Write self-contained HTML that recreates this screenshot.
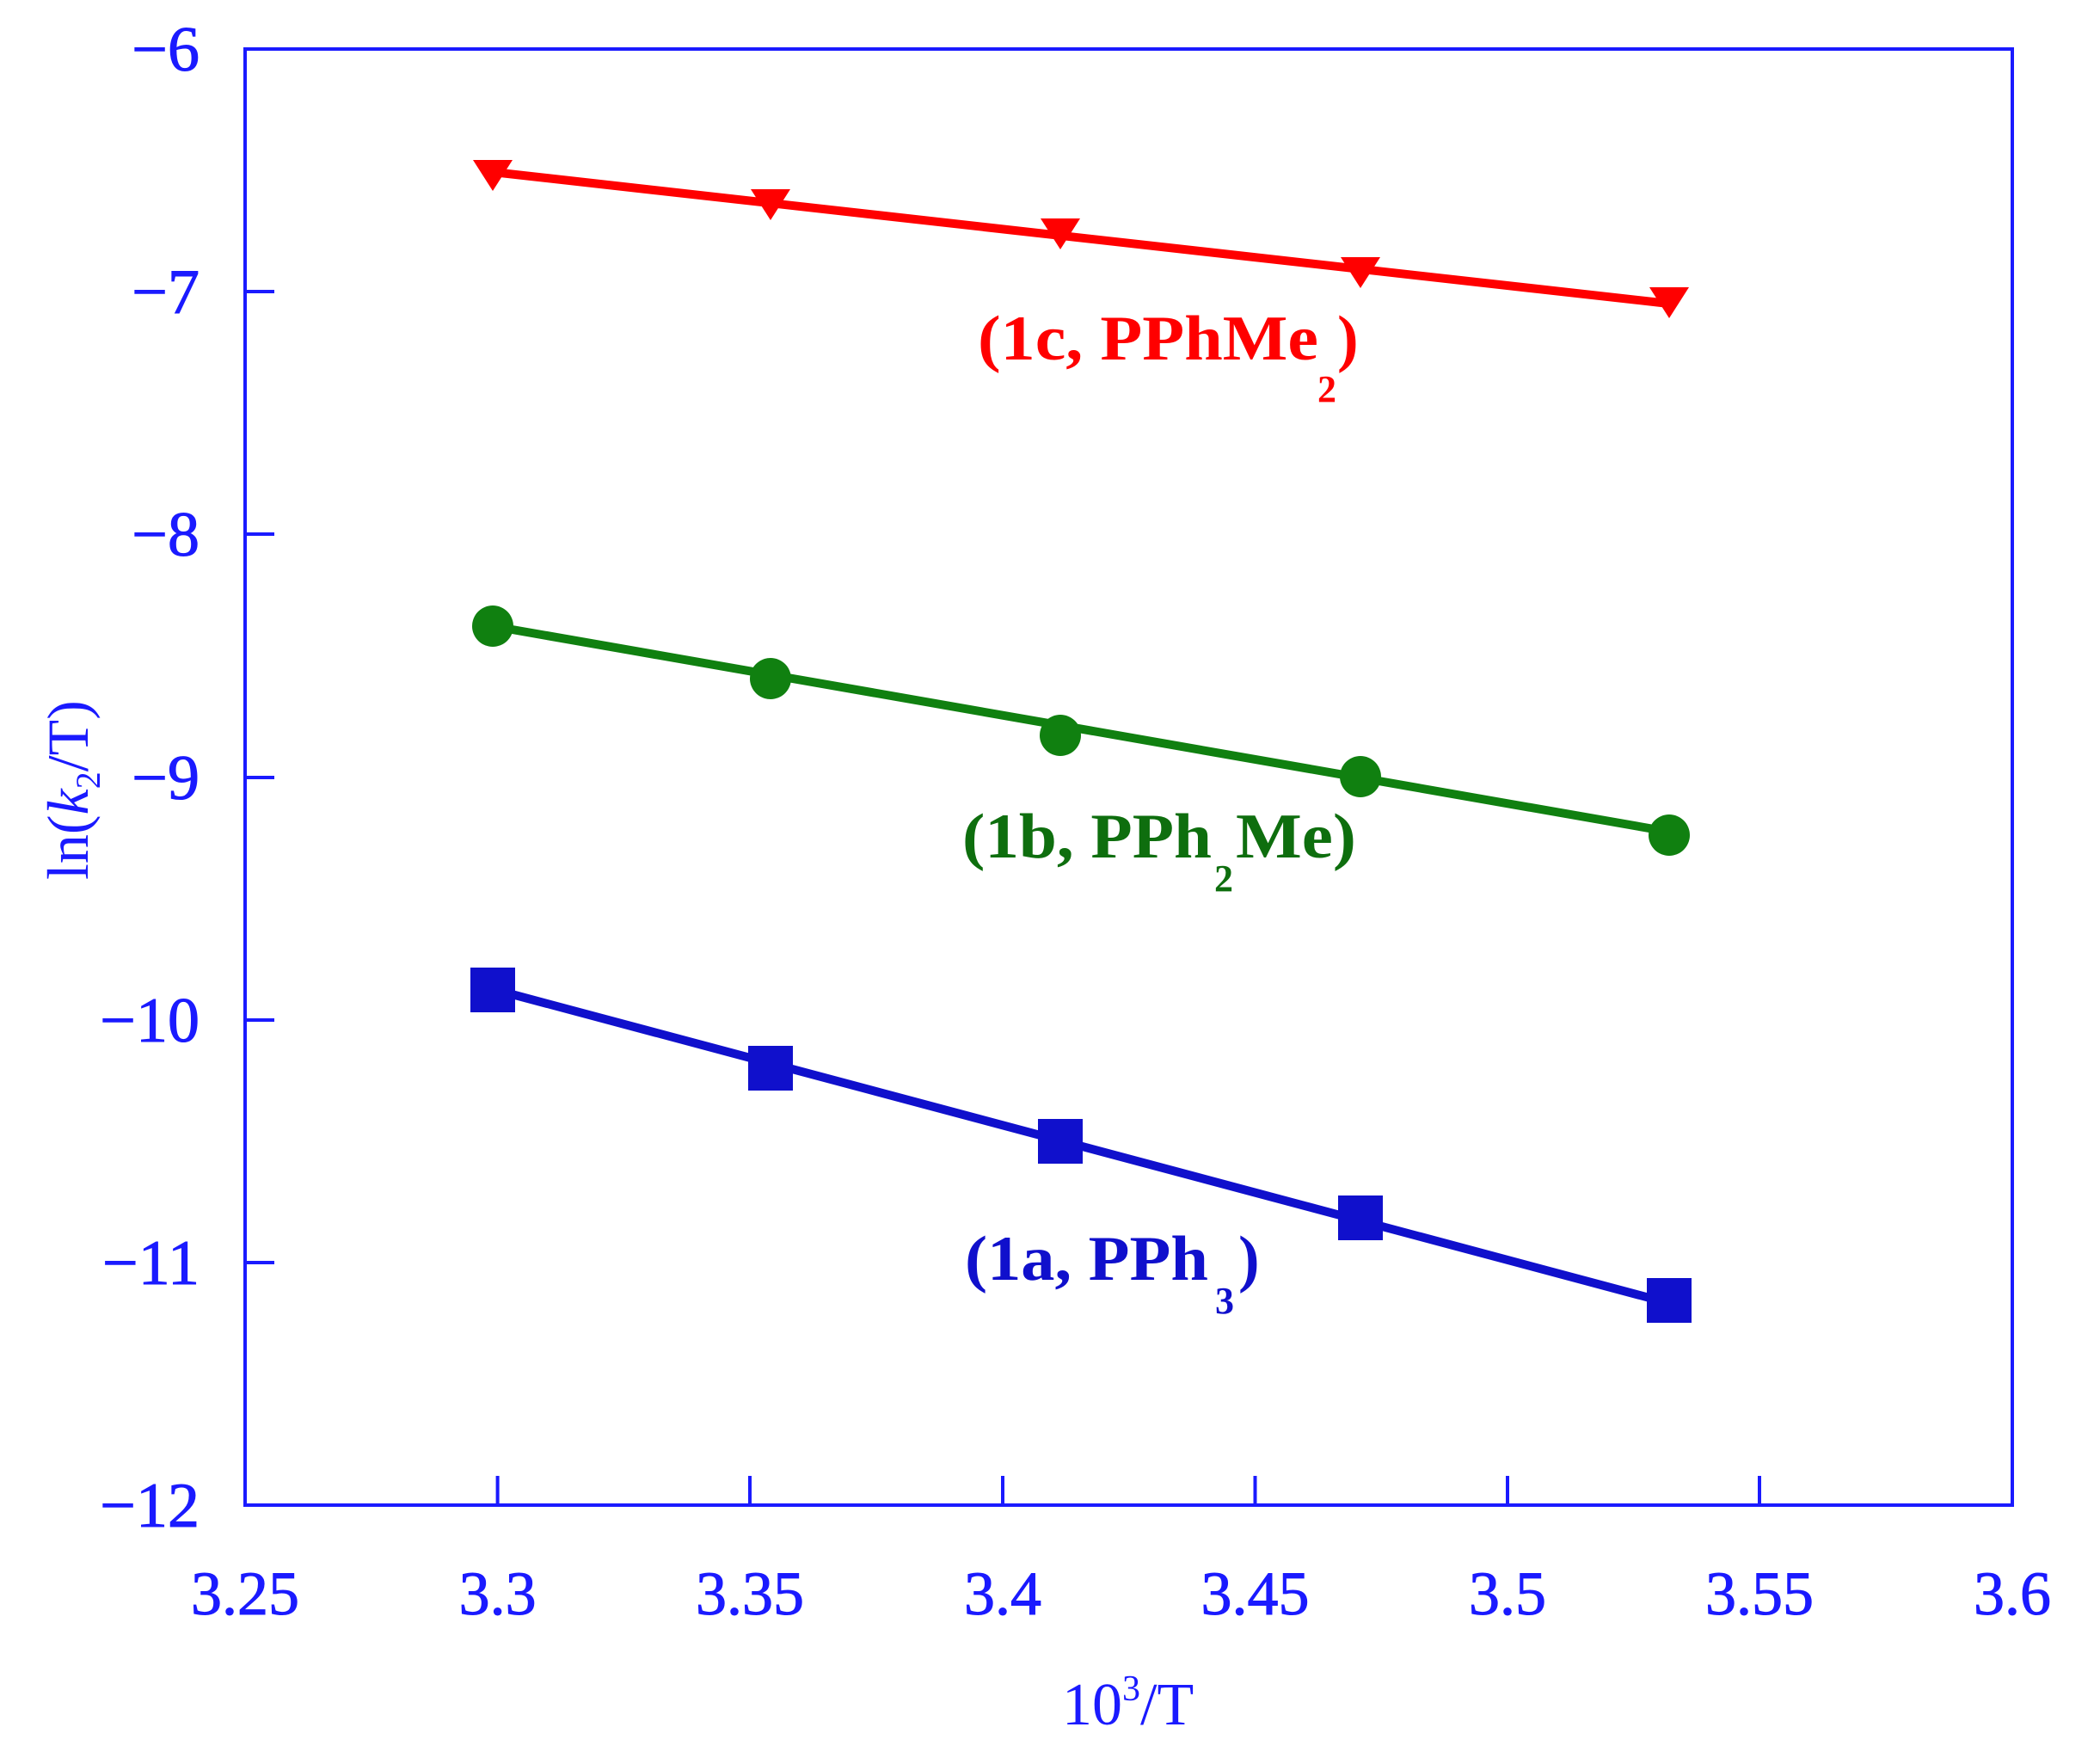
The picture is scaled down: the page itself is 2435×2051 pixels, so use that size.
<!DOCTYPE html>
<html><head><style>html,body{margin:0;padding:0;background:#fff}svg{display:block}</style></head>
<body>
<svg width="2435" height="2051" viewBox="0 0 2435 2051" xmlns="http://www.w3.org/2000/svg" font-family="Liberation Serif, serif">
<rect width="2435" height="2051" fill="#fff"/>
<g stroke="#1a1aff" stroke-width="4" fill="none">
<rect x="285" y="57" width="2055" height="1693"/>
<path d="M285 339h34M285 621h34M285 904h34M285 1186h34M285 1468h34"/>
<path d="M578.6 1750v-34M872 1750v-34M1166 1750v-34M1459.5 1750v-34M1753 1750v-34M2046 1750v-34"/>
</g>
<g fill="#1a1aff" font-size="74" text-anchor="end" stroke="#1a1aff" stroke-width="1">
<text x="232" y="82">−6</text>
<text x="232" y="364">−7</text>
<text x="232" y="646">−8</text>
<text x="232" y="929">−9</text>
<text x="232" y="1211">−10</text>
<text x="232" y="1493">−11</text>
<text x="232" y="1775">−12</text>
</g>
<g fill="#1a1aff" font-size="72" text-anchor="middle" stroke="#1a1aff" stroke-width="1">
<text x="285" y="1877">3.25</text>
<text x="578.6" y="1877">3.3</text>
<text x="872" y="1877">3.35</text>
<text x="1166" y="1877">3.4</text>
<text x="1459.5" y="1877">3.45</text>
<text x="1753" y="1877">3.5</text>
<text x="2046" y="1877">3.55</text>
<text x="2340" y="1877">3.6</text>
</g>
<text x="1235" y="2005" fill="#1a1aff" font-size="70">10<tspan font-size="42" dy="-28">3</tspan><tspan dy="28">/T</tspan></text>
<text transform="translate(102,1023) rotate(-90)" fill="#1a1aff" font-size="68">ln(<tspan font-style="italic">k</tspan><tspan font-size="40" dy="14">2</tspan><tspan dy="-14">/T)</tspan></text>

<!-- red -->
<line x1="572.7" y1="200" x2="1940.6" y2="353" stroke="#ff0000" stroke-width="10"/>
<g fill="#ff0000">
<polygon points="550,186 596,186 573,222"/>
<polygon points="873,220 919,220 896,256"/>
<polygon points="1210,254 1256,254 1233,290"/>
<polygon points="1559,299 1605,299 1582,335"/>
<polygon points="1918,334 1964,334 1941,370"/>
</g>
<g fill="#ff0000" font-weight="bold">
<text x="1137" y="418" font-size="74" textLength="396" lengthAdjust="spacingAndGlyphs">(1c, PPhMe</text>
<text x="1532" y="467" font-size="44">2</text>
<text x="1555" y="418" font-size="74">)</text>
</g>

<!-- green -->
<line x1="572.7" y1="728" x2="1940.6" y2="967" stroke="#108010" stroke-width="10"/>
<g fill="#108010">
<circle cx="573" cy="728" r="24"/>
<circle cx="896" cy="789" r="24"/>
<circle cx="1233" cy="855" r="24"/>
<circle cx="1582" cy="903" r="24"/>
<circle cx="1941" cy="971" r="24"/>
</g>
<g fill="#0e6e0e" font-weight="bold">
<text x="1119" y="997" font-size="74" textLength="290" lengthAdjust="spacingAndGlyphs">(1b, PPh</text>
<text x="1412" y="1036" font-size="44">2</text>
<text x="1437" y="997" font-size="74" textLength="140" lengthAdjust="spacingAndGlyphs">Me)</text>
</g>

<!-- blue -->
<line x1="572.7" y1="1150" x2="1940.6" y2="1515" stroke="#1010cc" stroke-width="10"/>
<g fill="#1010cc">
<rect x="547" y="1125" width="52" height="52"/>
<rect x="870" y="1216" width="52" height="52"/>
<rect x="1207" y="1301" width="52" height="52"/>
<rect x="1556" y="1390" width="52" height="52"/>
<rect x="1915" y="1486" width="52" height="52"/>
</g>
<g fill="#1010cc" font-weight="bold">
<text x="1122" y="1488" font-size="74" textLength="283" lengthAdjust="spacingAndGlyphs">(1a, PPh</text>
<text x="1413" y="1527" font-size="44">3</text>
<text x="1440" y="1488" font-size="74">)</text>
</g>
</svg>
</body></html>
